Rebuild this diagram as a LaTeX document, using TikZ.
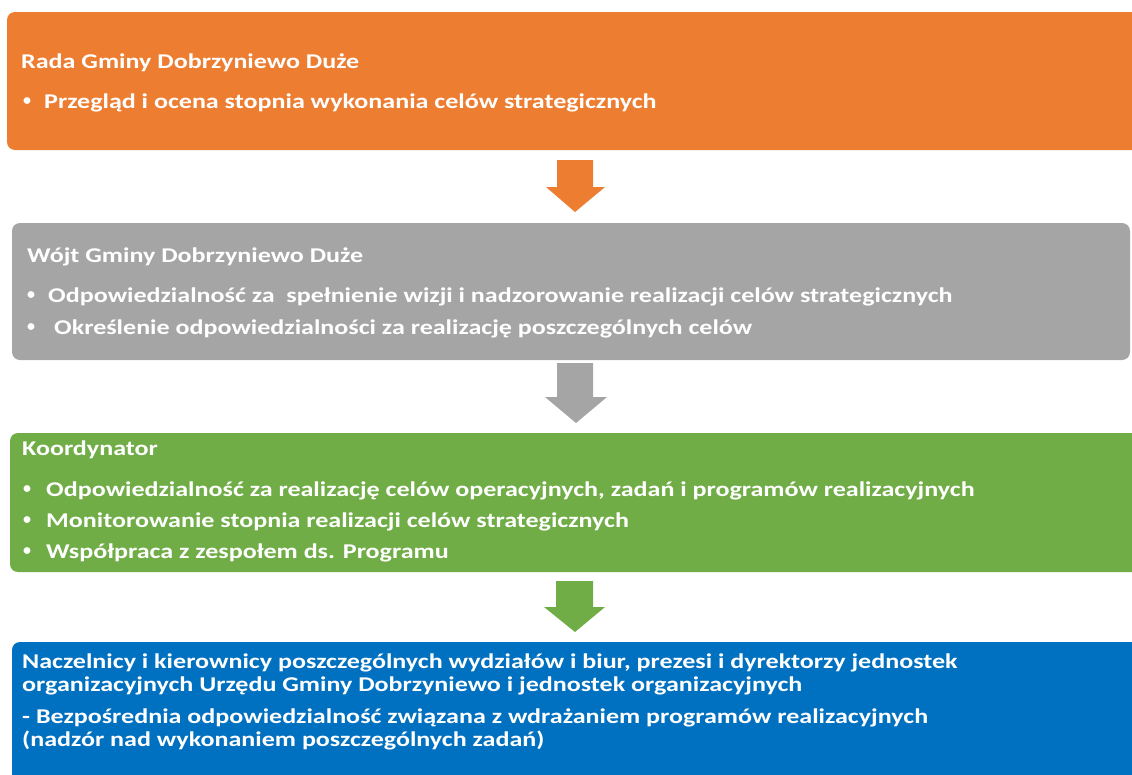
\documentclass[tikz,border=0pt]{standalone}
\usepackage{fontspec}
\setmainfont{Carlito}[FakeStretch=1.24]
\newfontfamily\bulfont{Carlito}
\definecolor{corange}{HTML}{ED7D31}
\definecolor{cgray}{HTML}{A5A5A5}
\definecolor{cgreen}{HTML}{70AD47}
\definecolor{cblue}{HTML}{0070C0}
\begin{document}
\begin{tikzpicture}[x=1pt,y=-1pt,
  boxstyle/.style={rounded corners=8pt},
  txt/.style={anchor=base west,inner sep=0pt,text=white,font=\fontsize{21}{23}\selectfont\bfseries},
  bul/.style={anchor=center,inner sep=0pt,text=white,font=\bulfont\fontsize{16}{18}\selectfont\bfseries}]
\useasboundingbox (0,0) rectangle (1132,774);
\clip (0,0) rectangle (1132,774);
% boxes
\fill[corange,boxstyle] (7,12) rectangle (1160,150);
\fill[cgray,boxstyle] (12,223) rectangle (1130,360);
\fill[cgreen,boxstyle] (10,433) rectangle (1160,572);
\fill[cblue,boxstyle] (12,642) rectangle (1160,800);
% arrows
\fill[corange] (557,160) -- (593,160) -- (593,187) -- (605,187) -- (575,212) -- (546,187) -- (557,187) -- cycle;
\fill[cgray] (557,363) -- (593,363) -- (593,397) -- (607,397) -- (576,423) -- (545,397) -- (557,397) -- cycle;
\fill[cgreen] (556,581) -- (593,581) -- (593,607) -- (605,607) -- (575,632) -- (544,607) -- (556,607) -- cycle;
% orange text
\node[txt] (o1) at (21,68) {Rada Gminy Dobrzyniewo Duże};
\node[bul] (ob) at (27,102) {•};
\node[txt] (o2) at (44,108) {Przegląd i ocena stopnia wykonania celów strategicznych};
% gray text
\node[txt] (g1) at (27,262) {Wójt Gminy Dobrzyniewo Duże};
\node[bul] (gb1) at (31,296) {•};
\node[txt] (g2) at (48,302) {Odpowiedzialność za\ \ spełnienie wizji i nadzorowanie realizacji celów strategicznych};
\node[bul] (gb2) at (31,328) {•};
\node[txt] (g3) at (54,334) {Określenie odpowiedzialności za realizację poszczególnych celów};
% green text
\node[txt] (k1) at (22,455) {Koordynator};
\node[bul] (kb1) at (27,490) {•};
\node[txt] (k2) at (46,496) {Odpowiedzialność za realizację celów operacyjnych, zadań i programów realizacyjnych};
\node[bul] (kb2) at (27,521) {•};
\node[txt] (k3) at (46,527) {Monitorowanie stopnia realizacji celów strategicznych};
\node[bul] (kb3) at (27,552) {•};
\node[txt] (k4) at (46,558) {Współpraca z zespołem ds. Programu};
% blue text
\node[txt] (b1) at (22,668) {Naczelnicy i kierownicy poszczególnych wydziałów i biur, prezesi i dyrektorzy jednostek};
\node[txt] (b2) at (22,691) {organizacyjnych Urzędu Gminy Dobrzyniewo i jednostek organizacyjnych};
\node[txt] (b3) at (22,723) {- Bezpośrednia odpowiedzialność związana z wdrażaniem programów realizacyjnych};
\node[txt] (b4) at (22,746) {(nadzór nad wykonaniem poszczególnych zadań)};
\end{tikzpicture}
\end{document}
